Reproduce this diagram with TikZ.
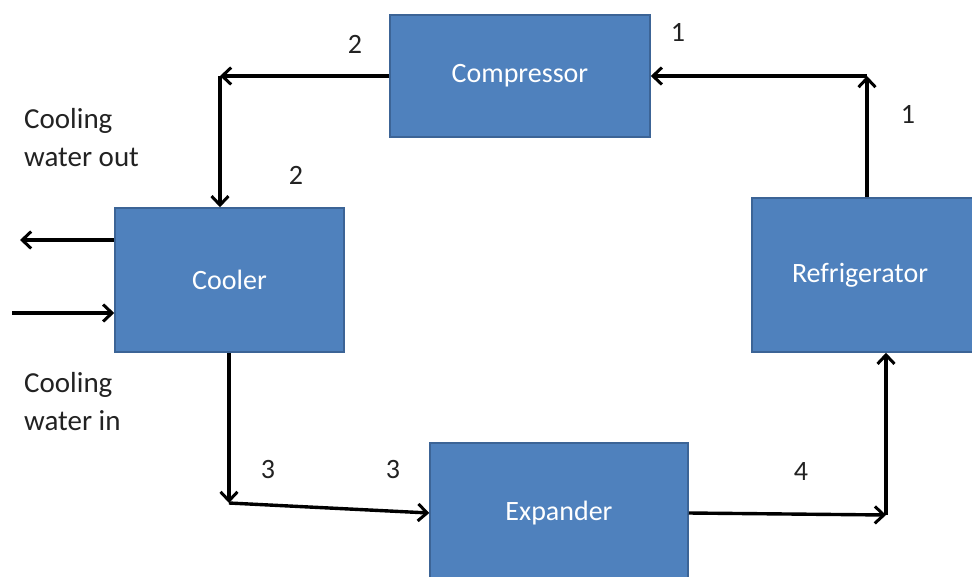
\documentclass[tikz,border=0pt]{standalone}
\usepackage{fontspec}
\setmainfont{Carlito}
\usetikzlibrary{arrows.meta}
\definecolor{boxblue}{HTML}{4F81BD}
\definecolor{boxedge}{HTML}{3C6496}
\definecolor{txt}{HTML}{222222}
\begin{document}
\begin{tikzpicture}[x=1pt,y=-1pt,
  unit/.style={rectangle,draw=boxedge,line width=1.5pt,fill=boxblue,text=white,font=\fontsize{28}{34}\selectfont,inner sep=0pt},
  flow/.style={line width=3.4pt,draw=black,-{Straight Barb[length=9pt,width=17pt,line width=3pt]}},
  num/.style={font=\fontsize{28}{34}\selectfont,text=txt,inner sep=0pt},
  side/.style={font=\fontsize{29}{38}\selectfont,text=txt,align=left,inner sep=0pt,anchor=north west}]
\useasboundingbox[fill=white] (0,0) rectangle (972,576);
\node[unit,minimum width=260pt,minimum height=122pt] (comp) at (520,76) {Compressor};
\node[unit,minimum width=229pt,minimum height=144pt] (cool) at (229.5,280) {Cooler};
\node[unit,minimum width=224pt,minimum height=154pt] (ref) at (864,275) {\hspace*{-8pt}Refrigerator};
\node[unit,minimum width=258pt,minimum height=140pt] (exp) at (559,513) {Expander};
\coordinate (k2) at (220,76);
\coordinate (k1) at (867,76);
\coordinate (k3) at (229,503);
\coordinate (k4) at (886,515);
\coordinate (wo) at (20,240);
\coordinate (wi) at (12,313);
\draw[flow] (comp.west) -- (k2);
\draw[flow] (k2) -- (k2 |- cool.north);
\draw[flow] (k1 |- ref.north) -- (k1);
\draw[flow] (k1) -- (comp.east);
\draw[flow] (k3 |- cool.south) -- (k3);
\draw[flow] (k3) -- (exp.west);
\draw[flow] (exp.east) -- (k4);
\draw[flow] (k4) -- (k4 |- ref.south);
\draw[flow] (cool.west |- wo) -- (wo);
\draw[flow] (wi) -- (wi -| cool.west);
\node[num] (n2a) at (355,44) {2};
\node[num] (n1a) at (678,32) {1};
\node[num] (n1b) at (908,114) {1};
\node[num] (n2b) at (296,175) {2};
\node[num] (n3a) at (268,470) {3};
\node[num] (n3b) at (393,470) {3};
\node[num] (n4) at (801,472) {4};
\node[side] (cwo) at (24,108) {Cooling\\water out};
\node[side] (cwi) at (24,372) {Cooling\\water in};
\end{tikzpicture}
\end{document}
